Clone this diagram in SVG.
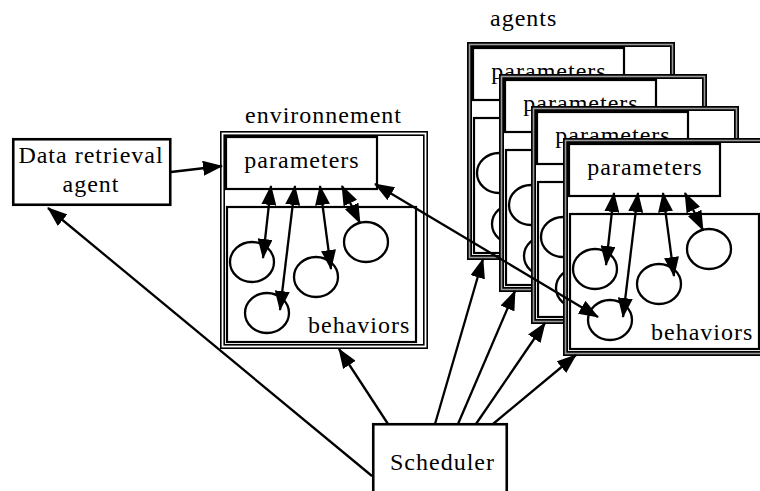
<svg xmlns="http://www.w3.org/2000/svg" width="760" height="491" viewBox="0 0 760 491">
  <style>
    text { font-family: "Liberation Serif", "Times New Roman", serif; font-size: 24px; letter-spacing: 1px; fill: #000; }
    .frame { fill: #fff; stroke: #000; stroke-width: 5; }
    .gap-env { fill: none; stroke: #fff; stroke-width: 1.8; }
    .gap-agent { fill: none; stroke: #999; stroke-width: 1.6; }
    .box { fill: #fff; stroke: #000; stroke-width: 2.2; }
    .cell { fill: none; stroke: #000; stroke-width: 2.3; }
    .node { fill: #fff; stroke: #000; stroke-width: 2.6; }
    .link { fill: none; stroke: #000; stroke-width: 2.3; }
    .one { marker-end: url(#head); }
    .two { marker-start: url(#head); marker-end: url(#head); }
  </style>
  <defs>
    <marker id="head" viewBox="0 0 20 15" refX="19" refY="7.5" markerWidth="20" markerHeight="15" markerUnits="userSpaceOnUse" orient="auto-start-reverse">
      <path d="M0,0 L20,7.5 L0,15 z" fill="#000"/>
    </marker>
  </defs>

  <rect width="760" height="491" fill="#fff"/>

  <!-- Data retrieval agent -->
  <g id="data-agent">
    <rect class="node" x="13.25" y="139.25" width="157" height="65.5"/>
    <text x="91" y="163" text-anchor="middle">Data retrieval</text>
    <text x="91" y="192" text-anchor="middle">agent</text>
  </g>

  <!-- Environment -->
  <g id="environnement" transform="translate(220,131)">
    <text x="25" y="-8">environnement</text>
    <rect class="frame" x="2.5" y="2.5" width="203" height="213"/>
    <rect class="gap-env" x="2.5" y="2.5" width="203" height="213"/>
    <rect class="box" x="6" y="6" width="151" height="52"/>
    <text x="82" y="37" text-anchor="middle">parameters</text>
    <rect class="box" x="7" y="76" width="189" height="135"/>
    <text x="88" y="202">behaviors</text>
    <ellipse class="cell" cx="32" cy="131" rx="22" ry="20"/>
    <ellipse class="cell" cx="47" cy="182" rx="22" ry="20"/>
    <ellipse class="cell" cx="96" cy="146" rx="22" ry="20"/>
    <ellipse class="cell" cx="146" cy="111" rx="22" ry="20"/>
    <path class="link two" d="M51,55 L43,127"/>
    <path class="link two" d="M75,55 L60,179"/>
    <path class="link two" d="M100,55 L111,138"/>
    <path class="link two" d="M122,55 L140,92"/>
  </g>

  <!-- Agents, stacked back to front -->
  <text x="490" y="26">agents</text>
  <g id="agent-1" transform="translate(467,42)">
    <rect class="frame" x="2.5" y="2.5" width="203" height="213"/>
    <rect class="gap-agent" x="2.5" y="2.5" width="203" height="213"/>
    <rect class="box" x="6" y="6" width="151" height="52"/>
    <text x="82" y="37" text-anchor="middle">parameters</text>
    <rect class="box" x="7" y="76" width="189" height="135"/>
    <text x="88" y="202">behaviors</text>
    <ellipse class="cell" cx="32" cy="131" rx="22" ry="20"/>
    <ellipse class="cell" cx="47" cy="182" rx="22" ry="20"/>
    <ellipse class="cell" cx="96" cy="146" rx="22" ry="20"/>
    <ellipse class="cell" cx="146" cy="111" rx="22" ry="20"/>
  </g>
  <g id="agent-2" transform="translate(499,74)">
    <rect class="frame" x="2.5" y="2.5" width="203" height="213"/>
    <rect class="gap-agent" x="2.5" y="2.5" width="203" height="213"/>
    <rect class="box" x="6" y="6" width="151" height="52"/>
    <text x="82" y="37" text-anchor="middle">parameters</text>
    <rect class="box" x="7" y="76" width="189" height="135"/>
    <text x="88" y="202">behaviors</text>
    <ellipse class="cell" cx="32" cy="131" rx="22" ry="20"/>
    <ellipse class="cell" cx="47" cy="182" rx="22" ry="20"/>
    <ellipse class="cell" cx="96" cy="146" rx="22" ry="20"/>
    <ellipse class="cell" cx="146" cy="111" rx="22" ry="20"/>
  </g>
  <g id="agent-3" transform="translate(531,106)">
    <rect class="frame" x="2.5" y="2.5" width="203" height="213"/>
    <rect class="gap-agent" x="2.5" y="2.5" width="203" height="213"/>
    <rect class="box" x="6" y="6" width="151" height="52"/>
    <text x="82" y="37" text-anchor="middle">parameters</text>
    <rect class="box" x="7" y="76" width="189" height="135"/>
    <text x="88" y="202">behaviors</text>
    <ellipse class="cell" cx="32" cy="131" rx="22" ry="20"/>
    <ellipse class="cell" cx="47" cy="182" rx="22" ry="20"/>
    <ellipse class="cell" cx="96" cy="146" rx="22" ry="20"/>
    <ellipse class="cell" cx="146" cy="111" rx="22" ry="20"/>
  </g>
  <g id="agent-4" transform="translate(563,138)">
    <rect class="frame" x="2.5" y="2.5" width="203" height="213"/>
    <rect class="gap-agent" x="2.5" y="2.5" width="203" height="213"/>
    <rect class="box" x="6" y="6" width="151" height="52"/>
    <text x="82" y="37" text-anchor="middle">parameters</text>
    <rect class="box" x="7" y="76" width="189" height="135"/>
    <text x="88" y="202">behaviors</text>
    <ellipse class="cell" cx="32" cy="131" rx="22" ry="20"/>
    <ellipse class="cell" cx="47" cy="182" rx="22" ry="20"/>
    <ellipse class="cell" cx="96" cy="146" rx="22" ry="20"/>
    <ellipse class="cell" cx="146" cy="111" rx="22" ry="20"/>
    <path class="link two" d="M51,55 L43,127"/>
    <path class="link two" d="M75,55 L60,179"/>
    <path class="link two" d="M100,55 L111,138"/>
    <path class="link two" d="M122,55 L140,92"/>
  </g>

  <!-- Scheduler -->
  <g id="scheduler">
    <rect class="node" x="373.25" y="424.25" width="133.5" height="80"/>
    <text x="390" y="470">Scheduler</text>
  </g>

  <!-- Connectors -->
  <g id="connectors">
    <path class="link one" d="M171,172 L222,166"/>
    <path class="link one" d="M372,476 L48,208"/>
    <path class="link one" d="M388,424 L339,349"/>
    <path class="link one" d="M435,424 L483,259"/>
    <path class="link one" d="M458,424 L515,291"/>
    <path class="link one" d="M476,424 L545,323"/>
    <path class="link one" d="M493,424 L576,355"/>
    <path class="link two" d="M375,184 L598,317"/>
  </g>
</svg>
